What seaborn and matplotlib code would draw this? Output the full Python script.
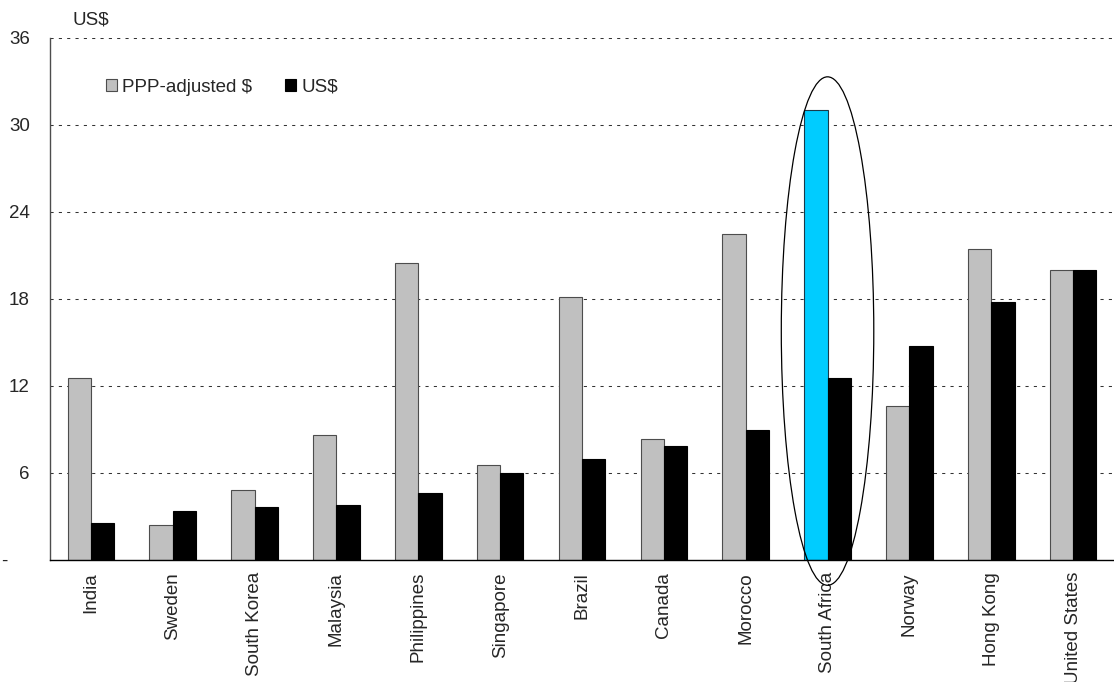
import pandas as pd
import seaborn as sns
import matplotlib.pyplot as plt
from matplotlib.patches import Ellipse, Patch

sns.set_style("white")
plt.rcParams["font.family"] = ["Liberation Sans", "DejaVu Sans"]

# --- data ---
countries = ["India", "Sweden", "South Korea", "Malaysia", "Philippines", "Singapore",
             "Brazil", "Canada", "Morocco", "South Africa", "Norway", "Hong Kong",
             "United States"]
ppp_adjusted = [12.5, 2.4, 4.8, 8.6, 20.5, 6.55, 18.1, 8.3, 22.5, 31.0, 10.6, 21.4, 20.0]
us_dollar = [2.5, 3.35, 3.6, 3.75, 4.6, 6.0, 6.95, 7.85, 8.95, 12.55, 14.75, 17.8, 20.0]
series_names = ["PPP-adjusted $", "US$"]
y_ticks = [0, 6, 12, 18, 24, 30, 36]
y_ticklabels = ["-    ", "6", "12", "18", "24", "30", "36"]
highlight = "South Africa"

df = pd.DataFrame({
    "Country": countries * 2,
    "Value": ppp_adjusted + us_dollar,
    "Series": [series_names[0]] * len(countries) + [series_names[1]] * len(countries),
})

gray = "#C0C0C0"
blue = "#00CCFF"
fs = 13.5

fig = plt.figure(figsize=(11.14, 6.82), dpi=100)
ax = fig.add_axes([50 / 1114, 1 - 559.5 / 682, (1114 - 50) / 1114, (559.5 - 38) / 682])

sns.barplot(data=df, x="Country", y="Value", hue="Series", hue_order=series_names,
            palette=[gray, "black"], width=0.57, legend=False, ax=ax)

# bar edges, highlight bar
for bar in ax.containers[0]:
    bar.set_edgecolor("#4d4d4d")
    bar.set_linewidth(0.8)
for bar in ax.containers[1]:
    bar.set_edgecolor("black")
    bar.set_linewidth(0.8)
hi = countries.index(highlight)
ax.containers[0][hi].set_facecolor(blue)
ax.containers[0][hi].set_edgecolor("#1a3a4a")

# ellipse around the highlighted country
ax.add_patch(Ellipse((hi, 15.77), width=1.13, height=35.1, fill=False,
                     edgecolor="black", linewidth=0.9, clip_on=False, zorder=5))

# --- axes styling ---
ax.set_ylim(0, 36)
ax.set_xlim(-0.5, 12.46)
ax.set_yticks(y_ticks)
ax.set_yticklabels(y_ticklabels, fontsize=fs)
ax.set_xticks([i - 0.5 for i in range(len(countries) + 1)])
ax.set_xticklabels([])
ax.set_xticks(range(len(countries)), minor=True)
ax.set_xticklabels(countries, minor=True, rotation=90, fontsize=fs, va="top")
ax.tick_params(axis="x", which="major", direction="out", length=5, width=0.8, color="black")
ax.tick_params(axis="x", which="minor", length=0, pad=9)
ax.tick_params(axis="y", direction="out", length=5, width=0.8, color="#4d4d4d", pad=9.6)
ax.set_xlabel("")
ax.set_ylabel("")

for y in y_ticks[1:]:
    ax.axhline(y, color="#333333", linewidth=0.75, linestyle=(0, (3, 5)), zorder=0)

sns.despine(ax=ax, top=True, right=True)
ax.spines["left"].set_color("#4d4d4d")
ax.spines["left"].set_linewidth(1.0)
ax.spines["bottom"].set_color("black")
ax.spines["bottom"].set_linewidth(1.0)

fig.text(72 / 1114, 1 - 20 / 682, "US$", fontsize=fs, ha="left", va="center")

handles = [Patch(facecolor=gray, edgecolor="#4d4d4d", linewidth=0.8),
           Patch(facecolor="black", edgecolor="black", linewidth=0.8)]
fig.legend(handles, series_names, loc="center left",
           bbox_to_anchor=(106 / 1114, 1 - 87 / 682), ncol=2, frameon=False,
           fontsize=fs, handlelength=0.56, handleheight=0.56, handletextpad=0.32,
           columnspacing=1.75, borderpad=0, borderaxespad=0)

fig.savefig("out.png", dpi=100)
